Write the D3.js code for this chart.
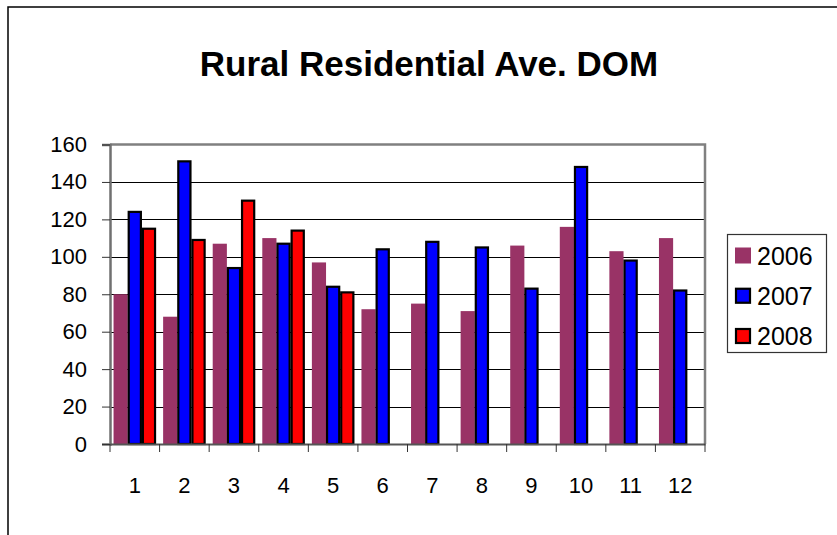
<!DOCTYPE html>
<html>
<head>
<meta charset="utf-8">
<script src="https://cdn.jsdelivr.net/npm/d3@7"></script>
<style>
  html, body { margin: 0; padding: 0; background: #fff; }
  svg { display: block; font-family: "Liberation Sans", Arial, sans-serif; }
</style>
</head>
<body>
<svg id="chart" width="837" height="535"></svg>
<script>
// Months and average days on market per year
const months = ["1", "2", "3", "4", "5", "6", "7", "8", "9", "10", "11", "12"];
const years = ["2006", "2007", "2008"];
const dom2006 = [80, 68, 107, 110, 97, 72, 75, 71, 106, 116, 103, 110];
const dom2007 = [124, 151, 94, 107, 84, 104, 108, 105, 83, 148, 98, 82];
const dom2008 = [115, 109, 130, 114, 81, null, null, null, null, null, null, null];
const yTicks = [0, 20, 40, 60, 80, 100, 120, 140, 160];

const seriesValues = { "2006": dom2006, "2007": dom2007, "2008": dom2008 };
const fills = { "2006": "#993366", "2007": "#0000ff", "2008": "#ff0000" };
const outlined = { "2006": false, "2007": true, "2008": true };

const svg = d3.select("#chart");
const plot = { left: 110, right: 705, top: 144.5, bottom: 444 };

// Outer chart frame
svg.append("rect").attr("x", 8).attr("y", 7).attr("width", 900).attr("height", 600)
  .attr("fill", "#fff").attr("stroke", "#000").attr("stroke-width", 1.5);

// Title
svg.append("text").attr("x", 429).attr("y", 76)
  .attr("text-anchor", "middle").attr("font-size", 35).attr("font-weight", "bold")
  .text("Rural Residential Ave. DOM");

const x = d3.scaleBand().domain(months).range([plot.left, plot.right]).paddingInner(0).paddingOuter(0);
const xs = d3.scaleBand().domain(years).range([0, x.bandwidth()]).paddingInner(0).paddingOuter(0.25);
const y = d3.scaleLinear().domain([0, 160]).range([plot.bottom, plot.top]);

// Horizontal gridlines
svg.append("g").selectAll("line").data(yTicks.filter(t => t > 0 && t < 160)).join("line")
  .attr("x1", plot.left).attr("x2", plot.right)
  .attr("y1", d => Math.round(y(d)) + 0.5).attr("y2", d => Math.round(y(d)) + 0.5)
  .attr("stroke", "#000").attr("stroke-width", 1);

// Plot area frame (top and right)
svg.append("path")
  .attr("d", `M${plot.left},${plot.top}H${plot.right}V${plot.bottom}`)
  .attr("fill", "none").attr("stroke", "#808080").attr("stroke-width", 2.5);

// Bars
const rows = [];
months.forEach((m, i) => {
  years.forEach(yr => {
    const v = seriesValues[yr][i];
    if (v != null) rows.push({ month: m, year: yr, value: v });
  });
});

svg.append("g").selectAll("rect").data(rows).join("rect")
  .attr("x", d => x(d.month) + xs(d.year) + (outlined[d.year] ? 1 : 0))
  .attr("width", d => xs.bandwidth() - (outlined[d.year] ? 2 : 0))
  .attr("y", d => y(d.value))
  .attr("height", d => y(0) - y(d.value))
  .attr("fill", d => fills[d.year])
  .attr("stroke", d => outlined[d.year] ? "#000" : "none")
  .attr("stroke-width", 2.2);

// Y axis
const yAxis = svg.append("g").attr("transform", `translate(${plot.left},0)`)
  .call(d3.axisLeft(y).tickValues(yTicks).tickSize(8).tickPadding(15).tickFormat(d3.format("d")));
yAxis.select(".domain").attr("stroke", "#707070").attr("stroke-width", 2.5);
yAxis.selectAll(".tick line").attr("stroke", "#333");
yAxis.selectAll(".tick text").attr("font-size", 22).attr("fill", "#000")
  .attr("font-family", "Liberation Sans, Arial, sans-serif");

// X axis: ticks at month boundaries, labels centred in each month
const xAxis = svg.append("g").attr("transform", `translate(0,${plot.bottom})`)
  .call(d3.axisBottom(x).tickSize(0).tickPadding(33));
xAxis.select(".domain").attr("stroke", "#555").attr("stroke-width", 2);
xAxis.selectAll(".tick text").attr("font-size", 22).attr("fill", "#000")
  .attr("font-family", "Liberation Sans, Arial, sans-serif");
const bounds = months.map(m => x(m)).concat([plot.right]);
xAxis.append("g").selectAll("line").data(bounds).join("line")
  .attr("x1", d => d).attr("x2", d => d).attr("y1", 0).attr("y2", 8)
  .attr("stroke", "#333").attr("stroke-width", 1);

// Legend
const legend = svg.append("g");
legend.append("rect").attr("x", 727.5).attr("y", 234.5).attr("width", 99).attr("height", 118)
  .attr("fill", "#fff").attr("stroke", "#333").attr("stroke-width", 1.2);
const ly = d3.scalePoint().domain(years).range([255.5, 336]);
const item = legend.selectAll("g.item").data(years).join("g").attr("class", "item");
item.append("rect")
  .attr("x", d => outlined[d] ? 736 : 735).attr("y", d => ly(d) - (outlined[d] ? 7 : 8))
  .attr("width", d => outlined[d] ? 14 : 16).attr("height", d => outlined[d] ? 14 : 16)
  .attr("fill", d => fills[d])
  .attr("stroke", d => outlined[d] ? "#000" : "none").attr("stroke-width", 2.2);
item.append("text").attr("x", 757).attr("y", d => ly(d) + 9)
  .attr("font-size", 25).text(d => d);
</script>
</body>
</html>
